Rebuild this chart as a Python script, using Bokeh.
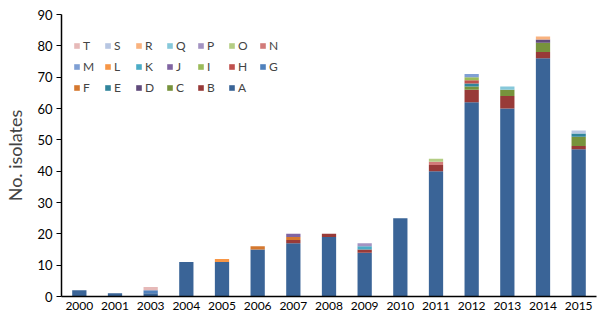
from bokeh.plotting import figure
from bokeh.models import Legend, LegendItem, FactorRange, Range1d, ColumnDataSource
from bokeh.embed import file_html
from bokeh.resources import INLINE

years = ["2000", "2001", "2003", "2004", "2005", "2006", "2007", "2008",
         "2009", "2010", "2011", "2012", "2013", "2014", "2015"]

# isolates per group per year
A = [2, 1, 1, 11, 11, 15, 17, 19, 14, 25, 40, 62, 60, 76, 47]
B = [0, 0, 0, 0, 0, 0, 1, 1, 1, 0, 2, 4, 4, 2, 1]
C = [0, 0, 0, 0, 0, 0, 0, 0, 0, 0, 0, 1, 2, 3, 3]
D = [0, 0, 0, 0, 0, 0, 0, 0, 0, 0, 0, 0, 0, 1, 0]
E = [0, 0, 0, 0, 0, 0, 0, 0, 0, 0, 0, 1, 0, 0, 1]
F = [0, 0, 0, 0, 0, 1, 1, 0, 0, 0, 0, 0, 0, 0, 0]
G = [0, 0, 1, 0, 0, 0, 0, 0, 0, 0, 0, 0, 0, 0, 0]
H = [0, 0, 0, 0, 0, 0, 0, 0, 0, 0, 0, 1, 0, 0, 0]
I = [0, 0, 0, 0, 0, 0, 0, 0, 0, 0, 0, 1, 0, 0, 0]
J = [0, 0, 0, 0, 0, 0, 1, 0, 0, 0, 0, 0, 0, 0, 0]
K = [0, 0, 0, 0, 0, 0, 0, 0, 1, 0, 0, 0, 0, 0, 0]
L = [0, 0, 0, 0, 1, 0, 0, 0, 0, 0, 0, 0, 0, 0, 0]
M = [0, 0, 0, 0, 0, 0, 0, 0, 0, 0, 0, 1, 0, 0, 0]
N = [0, 0, 0, 0, 0, 0, 0, 0, 0, 0, 1, 0, 0, 0, 0]
O = [0, 0, 0, 0, 0, 0, 0, 0, 0, 0, 1, 0, 0, 0, 0]
P = [0, 0, 0, 0, 0, 0, 0, 0, 1, 0, 0, 0, 0, 0, 0]
Q = [0, 0, 0, 0, 0, 0, 0, 0, 0, 0, 0, 0, 1, 0, 0]
R = [0, 0, 0, 0, 0, 0, 0, 0, 0, 0, 0, 0, 0, 1, 0]
S = [0, 0, 0, 0, 0, 0, 0, 0, 0, 0, 0, 0, 0, 0, 1]
T = [0, 0, 1, 0, 0, 0, 0, 0, 0, 0, 0, 0, 0, 0, 0]

groups = ["A", "B", "C", "D", "E", "F", "G", "H", "I", "J",
          "K", "L", "M", "N", "O", "P", "Q", "R", "S", "T"]
series = [A, B, C, D, E, F, G, H, I, J, K, L, M, N, O, P, Q, R, S, T]
colors = ["#3A6497", "#983A38", "#77933C", "#604A7B", "#31859C",
          "#D5782F", "#4F81BD", "#C0504D", "#9BBB59", "#8064A2",
          "#4BACC6", "#F79646", "#7F9FD4", "#D27B79", "#B4CD84",
          "#A393C2", "#86C8DA", "#F9B27E", "#B7C6E2", "#E6B9B8"]

data = {"year": years}
for g, s in zip(groups, series):
    data[g] = s
source = ColumnDataSource(data)

p = figure(width=600, height=324, x_range=FactorRange(*years),
           y_range=Range1d(0, 90), output_backend="svg",
           toolbar_location=None, min_border_left=61, min_border_right=4,
           min_border_top=14, min_border_bottom=28)

renderers = p.vbar_stack(groups, x="year", width=0.4, color=colors,
                         line_color=None, source=source)

font = "Lato"
p.xgrid.visible = False
p.ygrid.visible = False
p.outline_line_color = None

p.yaxis.ticker = list(range(0, 91, 10))
p.yaxis.axis_label = "No. isolates"
p.yaxis.axis_label_text_font = font
p.yaxis.axis_label_text_font_style = "normal"
p.yaxis.axis_label_text_font_size = "18px"
p.yaxis.axis_label_standoff = 8
p.yaxis.major_label_text_font = font
p.yaxis.major_label_text_font_size = "13px"
p.yaxis.major_label_text_color = "black"
p.yaxis.major_tick_out = 5
p.yaxis.major_tick_in = 0
p.yaxis.minor_tick_out = 0
p.yaxis.minor_tick_in = 0
p.yaxis.axis_line_color = "black"
p.yaxis.axis_line_width = 1.5
p.yaxis.major_tick_line_width = 1.2
p.yaxis.major_label_standoff = 4

p.xaxis.major_label_text_font = font
p.xaxis.major_label_text_font_size = "12px"
p.xaxis.major_label_text_color = "black"
p.xaxis.major_tick_out = 0
p.xaxis.major_tick_in = 0
p.xaxis.axis_line_color = "black"
p.xaxis.axis_line_width = 1.5
p.xaxis.major_label_standoff = 5
p.x_range.range_padding = 0
p.x_range.group_padding = 0

rmap = dict(zip(groups, renderers))
order = ["T", "S", "R", "Q", "P", "O", "N",
         "M", "L", "K", "J", "I", "H", "G",
         "F", "E", "D", "C", "B", "A"]
items = [LegendItem(label=g, renderers=[rmap[g]]) for g in order]
legend = Legend(items=items, location=(12, 198), orientation="horizontal",
                ncols=7, nrows=3, glyph_width=7, glyph_height=7,
                label_standoff=3, label_width=21, label_height=21,
                spacing=0, padding=0, margin=0,
                label_text_font=font, label_text_font_size="12px",
                label_text_baseline="middle",
                border_line_color=None, background_fill_alpha=0)
p.add_layout(legend, "center")

open("out.html", "w").write(file_html(p, INLINE))
